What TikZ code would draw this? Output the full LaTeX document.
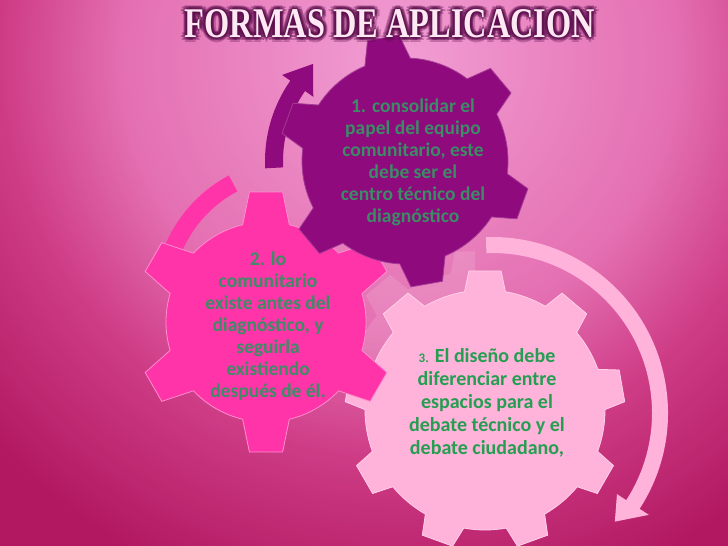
\documentclass[tikz,border=0pt]{standalone}
\usepackage{fontspec}
\usepackage{graphicx}
\setmainfont{Carlito}
\newfontfamily\titlefont{Liberation Serif}
\usetikzlibrary{positioning}

\definecolor{gearA}{RGB}{142,10,125}
\definecolor{gearB}{RGB}{255,52,168}
\definecolor{gearC}{RGB}{255,178,218}
\definecolor{labelA}{RGB}{60,140,102}
\definecolor{labelC}{RGB}{38,158,82}
\definecolor{bgIn}{RGB}{242,158,212}
\definecolor{bgMid}{RGB}{228,112,178}
\definecolor{bgDark}{RGB}{206,60,134}
\definecolor{bgOut}{RGB}{178,24,98}
\definecolor{titleGlow}{RGB}{92,14,76}
\definecolor{titleFill}{RGB}{253,232,243}

\newcommand{\gear}[7]{%
	\path[#7] ({#6-#4}:#2) \foreach \k in {1,...,#1}{
		-- ({#6+(\k-1)*360/#1-#5}:#3) -- ({#6+(\k-1)*360/#1+#5}:#3) -- ({#6+(\k-1)*360/#1+#4}:#2)
		arc[start angle={#6+(\k-1)*360/#1+#4}, end angle={#6+\k*360/#1-#4}, radius=#2]
	} -- cycle;}

\tikzset{
	gear a/.style={fill=gearA, draw=gearA!80!white, line width=0.8pt},
	gear b/.style={fill=gearB, draw=gearB!55!white, line width=0.8pt},
	gear c/.style={fill=gearC, draw=gearC!60!white, line width=0.8pt},
	gear halo/.style={fill=white, opacity=0.12},
	gear label/.style={font=\bfseries\fontsize{19.5}{22}\selectfont, align=center, text=labelA},
	title glow/.style={text=titleGlow, opacity=0.3, inner sep=0pt},
	title text/.style={text=titleFill, inner sep=0pt}
}

\begin{document}
\begin{tikzpicture}[x=1pt, y=1pt]
	
	\useasboundingbox (0,0) rectangle (728,546);
	\coordinate (glow) at (400,486);
	\begin{scope}
		\clip (0,0) rectangle (728,546);
		\fill[bgOut] (0,0) rectangle (728,546);
		\foreach \r in {560,556,...,400}
		{\pgfmathtruncatemacro\p{(\r-400)/1.6} \fill[bgOut!\p!bgDark] (glow) circle (\r);}
		\foreach \r in {396,392,...,276}
		{\pgfmathtruncatemacro\p{(\r-276)/1.24} \fill[bgDark!\p!bgMid] (glow) circle (\r);}
		\foreach \r in {272,268,...,4}
		{\pgfmathtruncatemacro\p{\r/2.76} \fill[bgMid!\p!bgIn] (glow) circle (\r);}
	\end{scope}
	
	\coordinate (g1) at (405,385);
	\coordinate (g2) at (266,224);
	\coordinate (g3) at (485,136);
	\coordinate (arc-b) at (295,246);
	\coordinate (arc-c) at (492,133);
	
	\begin{scope}[shift={(arc-c)}]
		\fill[gearC] (92:160) arc[start angle=92, end angle=-33, radius=160] -- (-33:149)
		-- (-41.5:164) -- (-33:187) -- (-33:176) arc[start angle=-33, end angle=92, radius=176] -- cycle;
	\end{scope}
	
	\begin{scope}[shift={(arc-b)}]
		\fill[gearB] (118:123) arc[start angle=118, end angle=168, radius=123] -- (168:141)
		arc[start angle=168, end angle=118, radius=141] -- cycle;
	\end{scope}
	
	\begin{scope}[shift={(g1)}]
		\fill[gearA] (183:122) arc[start angle=183, end angle=145, radius=122] -- (145:112)
		-- (133.4:133.7) -- (145:150) -- (145:140) arc[start angle=145, end angle=183, radius=140] -- cycle;
	\end{scope}
	
	\begin{scope}
		\clip (330,170) rectangle (475,300);
		\begin{scope}[shift={(g3)}, shift={(-14,14)}, scale=1.04]
			\gear{9}{119}{140}{9.5}{6.3}{90}{gear halo}
		\end{scope}
	\end{scope}
	
	\begin{scope}[shift={(g3)}]
		\gear{9}{120}{140}{9.8}{6.6}{90}{gear c}
	\end{scope}
	
	\begin{scope}[shift={(g2)}]
		\gear{6}{100}{131}{13.5}{7.3}{90}{gear b}
	\end{scope}
	
	\begin{scope}[shift={(g1)}]
		\gear{6}{103}{126}{12.9}{7.3}{100}{gear a}
	\end{scope}
	
	\node[gear label] (label-1) at (413,384) {1. consolidar el\\papel del equipo\\comunitario, este\\debe ser el\\centro técnico del\\diagnóstico};
	
	\node[gear label] (label-2) at (268,220) {2. lo\\comunitario\\existe antes del\\diagnóstico, y\\seguirla\\existiendo\\después de él.};
	
	\node[gear label, text=labelC, font=\bfseries\fontsize{20}{23}\selectfont] (label-3) at (487,143)
	{{\fontsize{13}{23}\selectfont 3.} El diseño debe\\diferenciar entre\\espacios para el\\debate técnico y el\\debate ciudadano,};
	
	\foreach \r in {1.5,3,4.5}
	\foreach \a in {0,45,...,315}
	\node[title glow, shift={(\a:\r)}] (glow-\r-\a) at (390,522)
	{\resizebox{410pt}{28pt}{\titlefont\bfseries FORMAS DE APLICACION}};
	
	\node[title text] (title) at (390,522) {\resizebox{410pt}{28pt}{\titlefont\bfseries FORMAS DE APLICACION}};
	
\end{tikzpicture}
\end{document}
